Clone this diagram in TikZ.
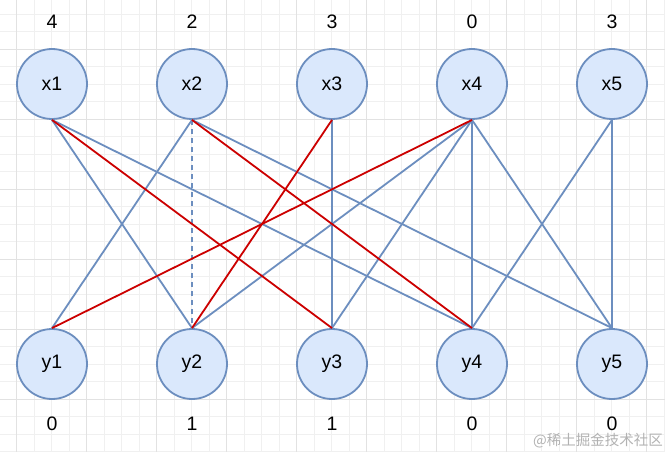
\documentclass[tikz,border=0pt]{standalone}
\usepackage{fontspec}
\setmainfont{Liberation Sans}
\newfontfamily\cjkfont{Noto Sans CJK SC}
\begin{document}
\begin{tikzpicture}[x=1pt,y=-1pt,
  vtx/.style={circle, draw=nodeblue, fill=nodefill, line width=1.8pt, minimum size=70pt, inner sep=0pt, font=\fontsize{19.5}{21}\selectfont},
  num/.style={font=\fontsize{19.5}{21}\selectfont, inner sep=0pt},
  edge/.style={draw=nodeblue, line width=1.8pt},
  redge/.style={draw=edgered, line width=1.8pt},
  dedge/.style={draw=nodeblue, line width=1.8pt, dash pattern=on 5pt off 4pt}
]
\definecolor{nodeblue}{HTML}{6C8EBF}
\definecolor{nodefill}{HTML}{DAE8FC}
\definecolor{edgered}{HTML}{CC0000}
\definecolor{gridminor}{HTML}{F0F0F0}
\definecolor{gridmajor}{HTML}{E2E2E2}
\useasboundingbox (0,0) rectangle (665,452);
\fill[white] (0,0) rectangle (665,452);
% grid
\foreach \k in {-1,...,37} {
  \pgfmathsetmacro{\gx}{16.7+17.5*\k}
  \draw[gridminor, line width=0.8pt] (\gx,0) -- (\gx,452);
}
\foreach \k in {-1,...,25} {
  \pgfmathsetmacro{\gy}{14+17.5*\k}
  \draw[gridminor, line width=0.8pt] (0,\gy) -- (665,\gy);
}
\foreach \k in {0,...,9} {
  \pgfmathsetmacro{\gx}{16.7+70*\k}
  \draw[gridmajor, line width=0.8pt] (\gx,0) -- (\gx,452);
}
\foreach \k in {-1,...,6} {
  \pgfmathsetmacro{\gy}{49+70*\k}
  \draw[gridmajor, line width=0.8pt] (0,\gy) -- (665,\gy);
}
% nodes
\node[vtx] (x1) at (52,84) {x1};
\node[vtx] (x2) at (192,84) {x2};
\node[vtx] (x3) at (332,84) {x3};
\node[vtx] (x4) at (472,84) {x4};
\node[vtx] (x5) at (612,84) {x5};
\node[vtx] (y1) at (52,364) {y1};
\node[vtx] (y2) at (192,364) {y2};
\node[vtx] (y3) at (332,364) {y3};
\node[vtx] (y4) at (472,364) {y4};
\node[vtx] (y5) at (612,364) {y5};
% labels
\node[num] (lx1) at (52,22) {4};
\node[num] (lx2) at (192,22) {2};
\node[num] (lx3) at (332,22) {3};
\node[num] (lx4) at (472,22) {0};
\node[num] (lx5) at (612,22) {3};
\node[num] (ly1) at (52,424) {0};
\node[num] (ly2) at (192,424) {1};
\node[num] (ly3) at (332,424) {1};
\node[num] (ly4) at (472,424) {0};
\node[num] (ly5) at (612,424) {0};
% edges
\draw[edge] (x1.south) -- (y2.north);
\draw[edge] (x1.south) -- (y4.north);
\draw[edge] (x2.south) -- (y1.north);
\draw[dedge] (x2.south) -- (y2.north);
\draw[edge] (x2.south) -- (y5.north);
\draw[edge] (x3.south) -- (y3.north);
\draw[edge] (x4.south) -- (y2.north);
\draw[edge] (x4.south) -- (y3.north);
\draw[edge] (x4.south) -- (y4.north);
\draw[edge] (x4.south) -- (y5.north);
\draw[edge] (x5.south) -- (y4.north);
\draw[edge] (x5.south) -- (y5.north);
\draw[redge] (x1.south) -- (y3.north);
\draw[redge] (x2.south) -- (y4.north);
\draw[redge] (x3.south) -- (y2.north);
\draw[redge] (x4.south) -- (y1.north);
% watermark
\node[anchor=east, text=black!30, font=\cjkfont\fontsize{14.5}{16}\selectfont, inner sep=0pt] (wm) at (663,441) {@稀土掘金技术社区};
\end{tikzpicture}
\end{document}
